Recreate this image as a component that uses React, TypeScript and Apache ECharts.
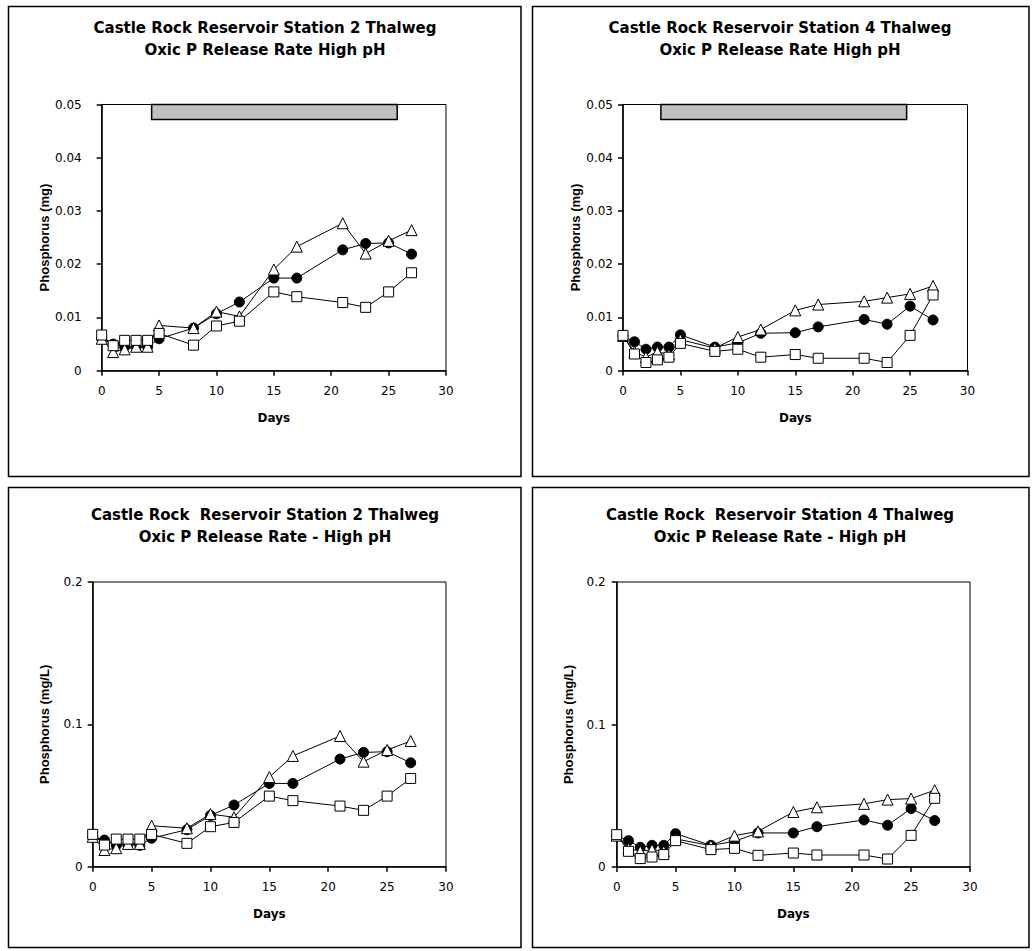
import React, { useEffect, useRef } from "react";
import * as echarts from "echarts";

// ---- Data ----
const days = [0, 1, 2, 3, 4, 5, 8, 10, 12, 15, 17, 21, 23, 25, 27];

// Station 2, mass (mg)
const st2MgCircle = [0.006, 0.005, 0.0045, 0.0045, 0.0045, 0.006, 0.008, 0.0107, 0.0129, 0.0174, 0.0174, 0.0227, 0.0239, 0.024, 0.0219];
const st2MgTriangle = [0.006, 0.0035, 0.004, 0.0045, 0.0045, 0.0085, 0.008, 0.0111, 0.0102, 0.019, 0.0233, 0.0277, 0.022, 0.0244, 0.0264];
const st2MgSquare = [0.0067, 0.0047, 0.0057, 0.0057, 0.0057, 0.007, 0.0048, 0.0084, 0.0093, 0.0148, 0.0139, 0.0128, 0.0119, 0.0148, 0.0184];

// Station 4, mass (mg)
const st4MgCircle = [0.0065, 0.0054, 0.004, 0.0044, 0.0044, 0.0067, 0.0044, 0.0052, 0.007, 0.0071, 0.0082, 0.0096, 0.0087, 0.0121, 0.0095];
const st4MgTriangle = [0.0065, 0.0035, 0.0025, 0.0035, 0.003, 0.0058, 0.0042, 0.0063, 0.0077, 0.0113, 0.0124, 0.013, 0.0137, 0.0144, 0.0159];
const st4MgSquare = [0.0066, 0.0031, 0.0015, 0.002, 0.0025, 0.0051, 0.0036, 0.004, 0.0025, 0.003, 0.0023, 0.0023, 0.0015, 0.0066, 0.0142];

// Station 2, concentration (mg/L)
const st2LCircle = [0.021, 0.0187, 0.015, 0.016, 0.015, 0.02, 0.026, 0.036, 0.0433, 0.0585, 0.0585, 0.0756, 0.0803, 0.0808, 0.073];
const st2LTriangle = [0.021, 0.0117, 0.013, 0.016, 0.016, 0.0288, 0.027, 0.037, 0.0347, 0.063, 0.0778, 0.0918, 0.0738, 0.082, 0.0883];
const st2LSquare = [0.0227, 0.0152, 0.0194, 0.0194, 0.0194, 0.0227, 0.0164, 0.0281, 0.0311, 0.0496, 0.0464, 0.0426, 0.0396, 0.0496, 0.062];

// Station 4, concentration (mg/L)
const st4LCircle = [0.022, 0.0185, 0.0138, 0.0152, 0.0152, 0.0234, 0.0152, 0.018, 0.0239, 0.0239, 0.0283, 0.033, 0.0293, 0.041, 0.0326];
const st4LTriangle = [0.022, 0.013, 0.011, 0.0122, 0.011, 0.0197, 0.015, 0.022, 0.025, 0.0386, 0.0419, 0.0443, 0.0473, 0.048, 0.0539];
const st4LSquare = [0.0227, 0.011, 0.0059, 0.007, 0.0087, 0.0185, 0.0122, 0.0131, 0.0082, 0.0098, 0.0084, 0.0084, 0.0056, 0.0222, 0.0482];

// Grey bar (days span, top/bottom values) in the upper charts
const st2Bar = [4.35, 25.75];
const st4Bar = [3.3, 24.7];
const barValues = [0.05, 0.0472];

const titles = [
  "Castle Rock Reservoir Station 2 Thalweg\nOxic P Release Rate High pH",
  "Castle Rock Reservoir Station 4 Thalweg\nOxic P Release Rate High pH",
  "Castle Rock  Reservoir Station 2 Thalweg\nOxic P Release Rate - High pH",
  "Castle Rock  Reservoir Station 4 Thalweg\nOxic P Release Rate - High pH",
];
const yNames = ["Phosphorus (mg)", "Phosphorus (mg)", "Phosphorus (mg/L)", "Phosphorus (mg/L)"];
const xName = "Days";

const FONT = "DejaVu Sans";

export default function App() {
  const ref = useRef<HTMLDivElement>(null);
  useEffect(() => {
    if (!ref.current) return;
    const chart = echarts.init(ref.current, null, { renderer: "svg" });

    const grids = [
      { left: 101.7, top: 104.5, width: 344.3, height: 266.2 },
      { left: 623, top: 104.5, width: 344.5, height: 266 },
      { left: 92.7, top: 582, width: 353.3, height: 284.7 },
      { left: 616.7, top: 582, width: 353.3, height: 285 },
    ];
    const yMax = [0.05, 0.05, 0.2, 0.2];
    const yInt = [0.01, 0.01, 0.1, 0.1];
    const yLabelMargin = [20, 10, 10, 11];
    const yNameGap = [38, 36, 42, 42];

    const panelData = [
      [st2MgCircle, st2MgTriangle, st2MgSquare],
      [st4MgCircle, st4MgTriangle, st4MgSquare],
      [st2LCircle, st2LTriangle, st2LSquare],
      [st4LCircle, st4LTriangle, st4LSquare],
    ];
    const bars: (number[] | null)[] = [st2Bar, st4Bar, null, null];

    const xAxis = grids.map((_, i) => ({
      type: "value",
      gridIndex: i,
      min: 0,
      max: 30,
      interval: 5,
      name: xName,
      nameLocation: "middle",
      nameGap: 41,
      nameTextStyle: { fontFamily: FONT, fontWeight: "bold", fontSize: 12, color: "#000", verticalAlign: "top" },
      axisLine: { show: true, onZero: false, lineStyle: { color: "#000", width: 1.5 } },
      axisTick: { show: true, length: 5, lineStyle: { color: "#000", width: 1.5 } },
      axisLabel: { fontFamily: FONT, fontSize: 12, color: "#000", margin: 14 },
      splitLine: { show: false },
    }));

    const yAxis = grids.map((_, i) => ({
      type: "value",
      gridIndex: i,
      min: 0,
      max: yMax[i],
      interval: yInt[i],
      name: yNames[i],
      nameLocation: "middle",
      nameGap: yNameGap[i],
      nameRotate: 90,
      nameTextStyle: { fontFamily: "Liberation Sans", fontWeight: "bold", fontSize: 13, color: "#000" },
      axisLine: { show: true, onZero: false, lineStyle: { color: "#000", width: 1.5 } },
      axisTick: { show: true, length: 5, lineStyle: { color: "#000", width: 1.5 } },
      axisLabel: { fontFamily: FONT, fontSize: 12, color: "#000", margin: yLabelMargin[i] },
      splitLine: { show: false },
    }));

    const symbols = [
      { symbol: "circle", size: 10, color: "#000" },
      { symbol: "triangle", size: 11, color: "#fff" },
      { symbol: "rect", size: 10, color: "#fff" },
    ];

    const series: any[] = [];
    panelData.forEach((sets, i) => {
      sets.forEach((vals, k) => {
        const s: any = {
          type: "line",
          xAxisIndex: i,
          yAxisIndex: i,
          data: days.map((d, j) => [d, vals[j]]),
          symbol: symbols[k].symbol,
          symbolSize: symbols[k].size,
          showSymbol: true,
          lineStyle: { color: "#000", width: 1 },
          itemStyle: { color: symbols[k].color, borderColor: "#000", borderWidth: 1 },
          z: 3 + k,
          silent: true,
        };
        const b = bars[i];
        if (k === 0 && b) {
          s.markArea = {
            silent: true,
            itemStyle: { color: "#c0c0c0", borderColor: "#000", borderWidth: 1.5 },
            data: [[{ coord: [b[0], barValues[0]] }, { coord: [b[1], barValues[1]] }]],
          };
        }
        series.push(s);
      });
    });

    const titlePos = [
      [265, 17],
      [780, 17],
      [265, 504],
      [780, 504],
    ];

    const boxes = [
      [8.5, 6.5, 512.5, 470],
      [532.5, 6.5, 496.5, 470],
      [8.5, 487.5, 512.5, 460],
      [532.5, 487.5, 496.5, 460],
    ];

    const graphic: any[] = [];
    boxes.forEach((b) =>
      graphic.push({
        type: "rect",
        shape: { x: b[0], y: b[1], width: b[2], height: b[3] },
        style: { fill: "none", stroke: "#000", lineWidth: 1.5 },
        silent: true,
      })
    );
    titles.forEach((t, i) =>
      graphic.push({
        type: "text",
        x: titlePos[i][0],
        y: titlePos[i][1],
        style: {
          text: t,
          align: "center",
          verticalAlign: "top",
          fontFamily: FONT,
          fontSize: 15,
          fontWeight: "bold",
          lineHeight: 22,
          fill: "#000",
        },
        silent: true,
      })
    );

    chart.setOption({
      animation: false,
      backgroundColor: "#fff",
      grid: grids.map((g) => ({ ...g, show: true, borderColor: "#000", borderWidth: 1, backgroundColor: "transparent" })),
      xAxis,
      yAxis,
      series,
      graphic,
    });
    return () => chart.dispose();
  }, []);
  return <div ref={ref} style={{ position: "fixed", left: 0, top: 0, width: 1032, height: 951, background: "#fff" }} />;
}
